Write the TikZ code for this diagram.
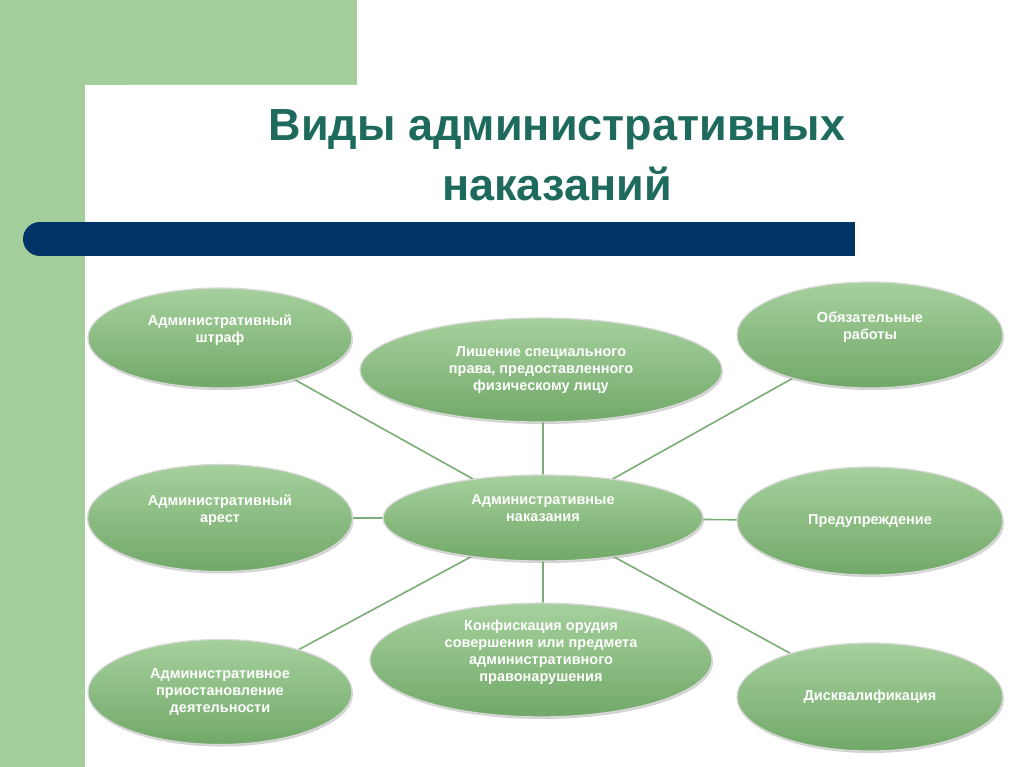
\documentclass[tikz,border=0pt]{standalone}
\usepackage{fontspec}
\setmainfont{Liberation Sans}
\usetikzlibrary{shapes.geometric,shadows}
\definecolor{bggreen}{HTML}{A4CF9D}
\definecolor{elltop}{HTML}{A6D09D}
\definecolor{ellbot}{HTML}{71A968}
\definecolor{linecol}{HTML}{7AAE74}
\definecolor{titlecol}{HTML}{1E6A5C}
\definecolor{barblue}{HTML}{003366}
\tikzset{
  ell/.style={ellipse, draw=white!85!black, line width=1.2pt, top color=elltop, bottom color=ellbot,
    text=white, font=\bfseries\fontsize{14.5}{17}\selectfont, align=center, inner sep=0pt,
    drop shadow={shadow xshift=1pt, shadow yshift=-2pt, opacity=0.35}},
  conn/.style={draw=linecol, line width=1.6pt}
}
\begin{document}
\begin{tikzpicture}[x=1pt,y=-1pt]
\useasboundingbox (0,0) rectangle (1024,767);
\fill[white] (0,0) rectangle (1024,767);
\fill[bggreen] (0,0) rectangle (357,85);
\fill[bggreen] (0,0) rectangle (85,767);
\fill[white] (85,767) [rounded corners=40pt]-- (85,85) [sharp corners]-- (357,85) -- (357,767) -- cycle;
\node[text=titlecol, font=\bfseries\fontsize{45}{60}\selectfont, align=center] (title) at (557,155) {Виды административных\\наказаний};
\fill[barblue] (40,222) rectangle (855,256);
\fill[barblue] (40,239) circle[radius=17];
% centres
\coordinate (c1) at (220,338);
\coordinate (c2) at (541,370);
\coordinate (c3) at (870,335);
\coordinate (c4) at (220,518);
\coordinate (c) at (543,518);
\coordinate (c6) at (870,521);
\coordinate (c7) at (220,692);
\coordinate (c8) at (541,660);
\coordinate (c9) at (870,697);
\draw[conn] (c) -- (c1);
\draw[conn] (c) -- (c3);
\draw[conn] (c) -- (c4);
\draw[conn] (c) -- (c6);
\draw[conn] (c) -- (c7);
\draw[conn] (c) -- (c9);
\draw[conn] (c) -- (543,400);
\draw[conn] (c) -- (543,630);
% ellipses
\node[ell, minimum width=264, minimum height=100] (e1) at (c1) {Административный\\штраф\\[2pt]};
\node[ell, minimum width=266, minimum height=106] (e3) at (c3) {Обязательные\\работы\\[2pt]};
\node[ell, minimum width=265, minimum height=107] (e4) at (c4) {Административный\\арест\\[2pt]};
\node[ell, minimum width=266, minimum height=108] (e6) at (c6) {Предупреждение};
\node[ell, minimum width=264, minimum height=105] (e7) at (c7) {Административное\\приостановление\\деятельности};
\node[ell, minimum width=266, minimum height=108] (e9) at (c9) {Дисквалификация};
\node[ell, minimum width=362, minimum height=104] (e2) at (c2) {Лишение специального\\права, предоставленного\\физическому лицу};
\node[ell, minimum width=342, minimum height=104] (e8) at (c8) {Конфискация орудия\\совершения или предмета\\административного\\правонарушения\\[2pt]};
\node[ell, minimum width=320, minimum height=86] (e5) at (c) {Административные\\наказания\\[2pt]};
\end{tikzpicture}
\end{document}
